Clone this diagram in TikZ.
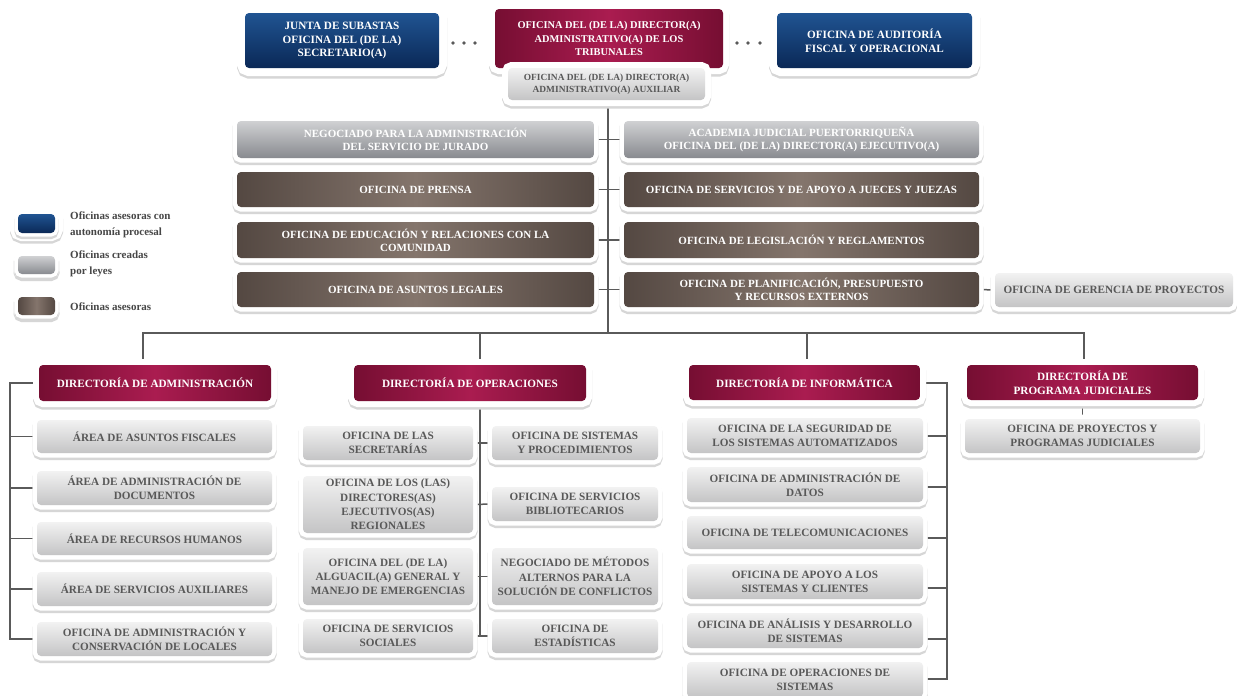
\documentclass[tikz,border=0pt]{standalone}
\usepackage{fontspec}
\setmainfont{Liberation Serif}
\usetikzlibrary{backgrounds}
\definecolor{blueT}{RGB}{32,84,146}
\definecolor{blueB}{RGB}{10,40,86}
\definecolor{marD}{RGB}{118,14,50}
\definecolor{marL}{RGB}{170,28,80}
\definecolor{guT}{RGB}{208,209,211}
\definecolor{guB}{RGB}{136,138,143}
\definecolor{brD}{RGB}{84,72,66}
\definecolor{brL}{RGB}{132,117,108}
\definecolor{glT}{RGB}{242,242,242}
\definecolor{glB}{RGB}{196,196,197}
\definecolor{txg}{RGB}{88,88,88}
\definecolor{lnc}{RGB}{90,90,90}
\definecolor{legt}{RGB}{70,70,70}
\newcommand\obx[7]{%
  \pgfmathsetmacro\obw{#5-#3}\pgfmathsetmacro\obh{#6-#4}%
  \pgfmathsetmacro\obcx{(#3+#5)/2}\pgfmathsetmacro\obcy{(#4+#6)/2}%
  \node[#1, minimum width=\obw pt, minimum height=\obh pt] (#2) at (\obcx,\obcy) {#7};}
\tikzset{
  framed/.style={preaction={draw=black!16, line width=#1, transform canvas={yshift=-2.5pt}},
                 preaction={draw=white, line width=#1}},
  framed/.default=9pt,
  basebox/.style={rounded corners=4pt, inner sep=1pt, outer sep=0pt, align=center,
                  font=\fontsize{11.2}{14.3}\selectfont\bfseries},
  bluebox/.style={basebox, framed=16pt, top color=blueT, bottom color=blueB, text=white,
                  font=\fontsize{11.2}{13.5}\selectfont\bfseries},
  marbox/.style={basebox, framed=12pt, left color=marD, right color=marD, middle color=marL, text=white,
                 font=\fontsize{11.2}{14}\selectfont\bfseries},
  topmar/.style={marbox, font=\fontsize{10.4}{13.5}\selectfont\bfseries},
  gubox/.style={basebox, framed=9pt, top color=guT, bottom color=guB, text=white,
                font=\fontsize{11}{13.3}\selectfont\bfseries},
  brbox/.style={basebox, framed=9pt, left color=brD, right color=brD, middle color=brL, text=white,
                font=\fontsize{11}{13.3}\selectfont\bfseries},
  glbox/.style={basebox, framed=9pt, top color=glT, bottom color=glB, text=txg},
  auxbox/.style={glbox, framed=12pt, font=\fontsize{9.4}{11.5}\selectfont\bfseries},
  conn/.style={draw=lnc, line width=1.5pt},
  dotn/.style={circle, fill=black!65, inner sep=0pt, minimum size=3.6pt},
  legtxt/.style={anchor=west, align=left, inner sep=0pt, text=legt,
                 font=\fontsize{11}{15.5}\selectfont\bfseries},
}
\begin{document}
\begin{tikzpicture}[x=1pt,y=-1pt]
\useasboundingbox (0,0) rectangle (1237,696);
% top row
\obx{bluebox}{junta}{245}{13}{439}{68}{JUNTA DE SUBASTAS\\OFICINA DEL (DE LA)\\SECRETARIO(A)}
\obx{topmar}{dir}{495}{9}{723}{68}{OFICINA DEL (DE LA) DIRECTOR(A)\\ADMINISTRATIVO(A) DE LOS\\TRIBUNALES}
\obx{auxbox}{aux}{508}{68}{705}{100}{OFICINA DEL (DE LA) DIRECTOR(A)\\ADMINISTRATIVO(A) AUXILIAR}
\obx{bluebox}{audit}{777}{13}{972}{68}{OFICINA DE AUDITORÍA\\FISCAL Y OPERACIONAL}
\node[dotn] (d1) at (453,43) {};
\node[dotn] (d2) at (464,43) {};
\node[dotn] (d3) at (475,43) {};
\node[dotn] (d4) at (737,43) {};
\node[dotn] (d5) at (748,43) {};
\node[dotn] (d6) at (760,43) {};
% upper rows
\obx{gubox}{l1}{237}{121}{594}{158}{NEGOCIADO PARA LA ADMINISTRACIÓN\\DEL SERVICIO DE JURADO}
\obx{gubox}{r1}{624}{121}{979}{158}{ACADEMIA JUDICIAL PUERTORRIQUEÑA\\OFICINA DEL (DE LA) DIRECTOR(A) EJECUTIVO(A)}
\obx{brbox}{l2}{237}{172}{594}{207}{OFICINA DE PRENSA}
\obx{brbox}{r2}{624}{172}{979}{207}{OFICINA DE SERVICIOS Y DE APOYO A JUECES Y JUEZAS}
\obx{brbox}{l3}{237}{222}{594}{258}{OFICINA DE EDUCACIÓN Y RELACIONES CON LA\\COMUNIDAD}
\obx{brbox}{r3}{624}{222}{979}{258}{OFICINA DE LEGISLACIÓN Y REGLAMENTOS}
\obx{brbox}{l4}{237}{272}{594}{307}{OFICINA DE ASUNTOS LEGALES}
\obx{brbox}{r4}{624}{272}{979}{307}{OFICINA DE PLANIFICACIÓN, PRESUPUESTO\\Y RECURSOS EXTERNOS}
\obx{glbox}{ger}{995}{273}{1233}{307}{OFICINA DE GERENCIA DE PROYECTOS}
% legend
\obx{bluebox,framed=7pt}{lg1}{18}{214}{55}{233}{}
\obx{gubox,framed=7pt}{lg2}{18}{256}{55}{274}{}
\obx{brbox,framed=7pt}{lg3}{18}{297}{55}{315}{}
\node[legtxt] (lt1) at (70,225) {Oficinas asesoras con\\autonomía procesal};
\node[legtxt] (lt2) at (70,264) {Oficinas creadas\\por leyes};
\node[legtxt] (lt3) at (70,307) {Oficinas asesoras};
% directorates
\obx{marbox}{ad}{39}{365}{271}{401}{DIRECTORÍA DE ADMINISTRACIÓN}
\obx{marbox}{op}{354}{365}{586}{401}{DIRECTORÍA DE OPERACIONES}
\obx{marbox}{in}{689}{365}{920}{400}{DIRECTORÍA DE INFORMÁTICA}
\obx{marbox}{pj}{967}{365}{1198}{400}{DIRECTORÍA DE\\PROGRAMA JUDICIALES}
% admin column
\obx{glbox}{a1}{37}{420}{272}{453}{ÁREA DE ASUNTOS FISCALES}
\obx{glbox}{a2}{37}{471}{272}{505}{ÁREA DE ADMINISTRACIÓN DE\\DOCUMENTOS}
\obx{glbox}{a3}{37}{522}{272}{555}{ÁREA DE RECURSOS HUMANOS}
\obx{glbox}{a4}{37}{572}{272}{606}{ÁREA DE SERVICIOS AUXILIARES}
\obx{glbox}{a5}{37}{622}{272}{656}{OFICINA DE ADMINISTRACIÓN Y\\CONSERVACIÓN DE LOCALES}
% operations column
\obx{glbox}{o1}{303}{426}{473}{460}{OFICINA DE LAS\\SECRETARÍAS}
\obx{glbox}{o2}{303}{476}{473}{533}{OFICINA DE LOS (LAS)\\DIRECTORES(AS)\\EJECUTIVOS(AS)\\REGIONALES}
\obx{glbox}{o3}{303}{548}{473}{605}{OFICINA DEL (DE LA)\\ALGUACIL(A) GENERAL Y\\MANEJO DE EMERGENCIAS}
\obx{glbox}{o4}{303}{619}{473}{653}{OFICINA DE SERVICIOS\\SOCIALES}
\obx{glbox}{p1}{492}{426}{658}{460}{OFICINA DE SISTEMAS\\Y PROCEDIMIENTOS}
\obx{glbox}{p2}{492}{487}{658}{521}{OFICINA DE SERVICIOS\\BIBLIOTECARIOS}
\obx{glbox}{p3}{492}{548}{658}{605}{NEGOCIADO DE MÉTODOS\\ALTERNOS PARA LA\\SOLUCIÓN DE CONFLICTOS}
\obx{glbox}{p4}{492}{619}{658}{653}{OFICINA DE\\ESTADÍSTICAS}
% informatica column
\obx{glbox}{i1}{687}{418}{923}{453}{OFICINA DE LA SEGURIDAD DE\\LOS SISTEMAS AUTOMATIZADOS}
\obx{glbox}{i2}{687}{467}{923}{502}{OFICINA DE ADMINISTRACIÓN DE\\DATOS}
\obx{glbox}{i3}{687}{516}{923}{549}{OFICINA DE TELECOMUNICACIONES}
\obx{glbox}{i4}{687}{564}{923}{599}{OFICINA DE APOYO A LOS\\SISTEMAS Y CLIENTES}
\obx{glbox}{i5}{687}{613}{923}{648}{OFICINA DE ANÁLISIS Y DESARROLLO\\DE SISTEMAS}
\obx{glbox}{i6}{687}{662}{923}{697}{OFICINA DE OPERACIONES DE\\SISTEMAS}
% programas judiciales
\obx{glbox}{q1}{965}{419}{1200}{453}{OFICINA DE PROYECTOS Y\\PROGRAMAS JUDICIALES}
% connectors
\coordinate (bus) at (608,333);
\coordinate (busL) at (143,333);
\coordinate (busO) at (480,333);
\coordinate (busI) at (807,333);
\coordinate (busR) at (1084,333);
\coordinate (brA) at (10,0);
\coordinate (spO) at (480,0);
\coordinate (t0) at (947,383);
\coordinate (t1) at (947,436);
\coordinate (t2) at (947,487);
\coordinate (t3) at (947,538);
\coordinate (t4) at (947,588);
\coordinate (t5) at (947,639);
\coordinate (t6) at (947,679);
\begin{scope}[on background layer]
\fill[white] (0,0) rectangle (1237,696);
\draw[conn] (aux.south -| bus) -- (bus);
\draw[conn] (l1.east) -- (r1.west);
\draw[conn] (l2.east) -- (r2.west);
\draw[conn] (l3.east) -- (r3.west);
\draw[conn] (l4.east) -- (r4.west);
\draw[conn] (r4.east) -- (ger.west);
\draw[conn] (ad.north -| busL) -- (busL) -- (busR) -- (pj.north -| busR);
\draw[conn] (busO) -- (op.north -| busO);
\draw[conn] (busI) -- (in.north -| busI);
% admin bracket
\draw[conn] (ad.west) -- (ad.west -| brA) -- (a5.west -| brA) -- (a5.west);
\draw[conn] (a1.west) -- (a1.west -| brA);
\draw[conn] (a2.west) -- (a2.west -| brA);
\draw[conn] (a3.west) -- (a3.west -| brA);
\draw[conn] (a4.west) -- (a4.west -| brA);
% operations spine
\draw[conn] (op.south -| spO) -- (o4.east -| spO);
\draw[conn] (o1.east) -- (p1.west);
\draw[conn] (o2.east) -- (p2.west);
\draw[conn] (o3.east) -- (p3.west);
\draw[conn] (o4.east) -- (p4.west);
% informatica bracket
\draw[conn] (in.east |- t0) -- (t0) -- (t6) -- (i6.east |- t6);
\draw[conn] (i1.east |- t1) -- (t1);
\draw[conn] (i2.east |- t2) -- (t2);
\draw[conn] (i3.east |- t3) -- (t3);
\draw[conn] (i4.east |- t4) -- (t4);
\draw[conn] (i5.east |- t5) -- (t5);
% programas
\draw[conn] (pj.south) -- (q1.north);
\end{scope}
\end{tikzpicture}
\end{document}
